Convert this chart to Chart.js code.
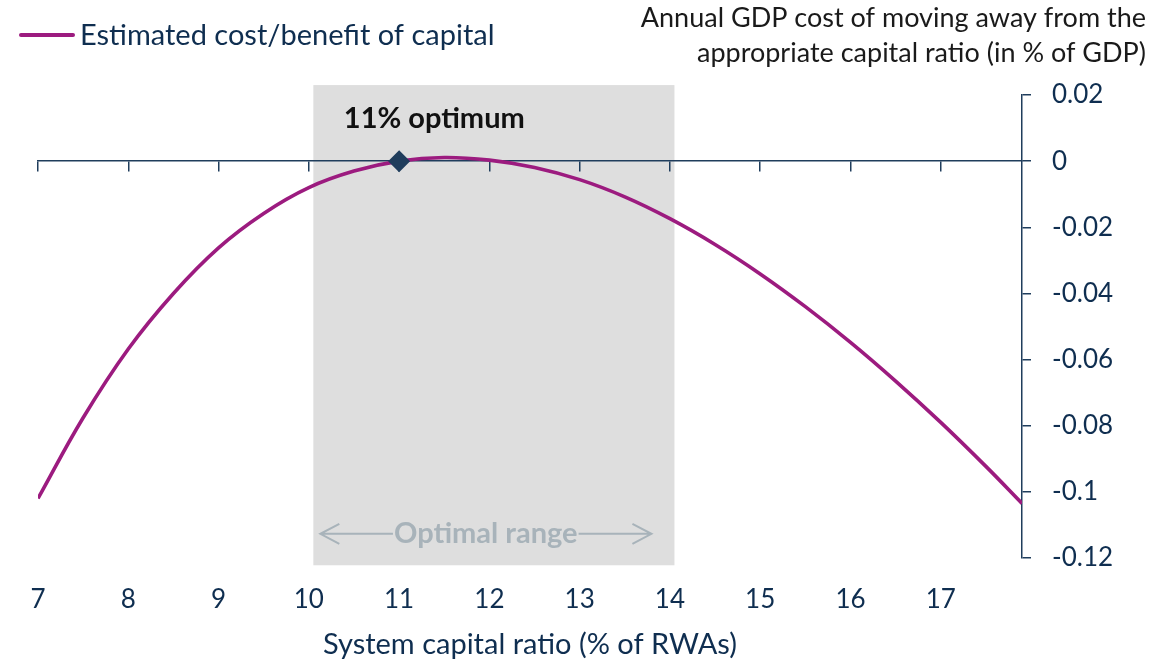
<!DOCTYPE html>
<html>
<head>
<meta charset="utf-8">
<script src="https://cdn.jsdelivr.net/npm/chart.js@4/dist/chart.umd.min.js"></script>
<style>
  html, body { margin: 0; padding: 0; background: #ffffff; }
  #wrap { width: 1176px; height: 664px; position: relative; }
</style>
</head>
<body>
<div id="wrap"><canvas id="c" width="1176" height="664"></canvas></div>
<script>
// ---- data ----
const capitalRatio = [7, 7.5, 8, 8.5, 9, 9.5, 10, 10.5, 11, 11.5, 12, 12.5, 13, 13.5, 14, 14.5, 15, 15.5, 16, 16.5, 17, 17.5, 17.9];
const costBenefit  = [-0.102, -0.0776, -0.0568, -0.04, -0.0262, -0.0158, -0.008, -0.003, 0, 0.0011, 0.0003, -0.0019, -0.0056, -0.0108, -0.0174, -0.0252, -0.0341, -0.044, -0.0548, -0.0665, -0.079, -0.0923, -0.1035];
const optimumX = [11];
const optimumY = [0];
const xTickValues = [7, 8, 9, 10, 11, 12, 13, 14, 15, 16, 17];
const yTickValues = [0.02, 0, -0.02, -0.04, -0.06, -0.08, -0.1, -0.12];
const optimalRange = [10.05, 14.05];
const seriesLabel = 'Estimated cost/benefit of capital';
const yTitleLines = ['Annual GDP cost of moving away from the', 'appropriate capital ratio (in % of GDP)'];
const xTitle = 'System capital ratio (% of RWAs)';
const optimumText = '11% optimum';
const rangeText = 'Optimal range';

const NAVY = '#0F2E50';
const AXIS = '#1F3D5C';
const PURPLE = '#9C1B7F';
const FONT = 'Lato, "Open Sans", sans-serif';

const overlay = {
  id: 'overlay',
  beforeDraw(chart) {
    const ctx = chart.ctx;
    const xs = chart.scales.x, ys = chart.scales.y;
    const l = xs.getPixelForValue(optimalRange[0]);
    const r = xs.getPixelForValue(optimalRange[1]);
    const t = ys.getPixelForValue(0.023);
    const b = ys.getPixelForValue(-0.1222);
    ctx.save();
    ctx.fillStyle = '#DEDEDE';
    ctx.fillRect(l, t, r - l, b - t);
    ctx.restore();
  },
  afterDraw(chart) {
    const ctx = chart.ctx;
    const xs = chart.scales.x, ys = chart.scales.y;
    ctx.save();
    // legend
    ctx.strokeStyle = PURPLE;
    ctx.lineWidth = 4;
    ctx.lineCap = 'round';
    ctx.beginPath(); ctx.moveTo(21, 35); ctx.lineTo(73, 35); ctx.stroke();
    ctx.fillStyle = NAVY;
    ctx.font = '29px ' + FONT;
    ctx.textAlign = 'left';
    ctx.textBaseline = 'middle';
    ctx.fillText(chart.data.datasets[0].label, 80, 36);
    // right axis title
    ctx.fillStyle = '#1A1A1A';
    ctx.font = '27px ' + FONT;
    ctx.textAlign = 'right';
    ctx.fillText(yTitleLines[0], 1146, 18);
    ctx.fillText(yTitleLines[1], 1146, 53);
    // optimum label
    ctx.fillStyle = '#111111';
    ctx.font = 'bold 29px ' + FONT;
    ctx.textAlign = 'center';
    ctx.fillText(optimumText, xs.getPixelForValue(11.39), ys.getPixelForValue(0.0129));
    // optimal range label and arrows
    const cx = xs.getPixelForValue(11.96);
    const cy = ys.getPixelForValue(-0.1127);
    ctx.fillStyle = '#A8B3BA';
    ctx.font = 'bold 29px ' + FONT;
    ctx.fillText(rangeText, cx, cy);
    const tw = ctx.measureText(rangeText).width;
    const lx = xs.getPixelForValue(optimalRange[0]) + 7;
    const rx = xs.getPixelForValue(optimalRange[1]) - 23;
    ctx.strokeStyle = '#A8B3BA';
    ctx.lineWidth = 2;
    ctx.lineCap = 'butt';
    ctx.beginPath();
    ctx.moveTo(lx, cy); ctx.lineTo(cx - tw / 2 - 1, cy);
    ctx.moveTo(lx + 19, cy - 10); ctx.lineTo(lx, cy); ctx.lineTo(lx + 19, cy + 10);
    ctx.moveTo(cx + tw / 2 + 1, cy); ctx.lineTo(rx, cy);
    ctx.moveTo(rx - 19, cy - 10); ctx.lineTo(rx, cy); ctx.lineTo(rx - 19, cy + 10);
    ctx.stroke();
    ctx.restore();
  }
};

new Chart(document.getElementById('c'), {
  type: 'line',
  data: {
    datasets: [
      {
        label: seriesLabel,
        data: capitalRatio.map((x, i) => ({ x: x, y: costBenefit[i] })),
        borderColor: PURPLE,
        borderWidth: 3.6,
        pointRadius: 0,
        tension: 0.4,
        fill: false,
        order: 2
      },
      {
        label: 'optimum',
        data: optimumX.map((x, i) => ({ x: x, y: optimumY[i] })),
        showLine: false,
        pointStyle: 'rectRot',
        pointRadius: 11,
        pointBackgroundColor: '#1F3D5C',
        pointBorderWidth: 0,
        order: 1
      }
    ]
  },
  options: {
    responsive: false,
    animation: false,
    devicePixelRatio: 1,
    layout: { padding: { left: 38, top: 95, right: 0, bottom: 0 } },
    plugins: {
      legend: { display: false },
      tooltip: { enabled: false },
      title: { display: false }
    },
    scales: {
      x: {
        type: 'linear',
        min: 7, max: 17.9,
        position: { y: 0 },
        afterBuildTicks: (s) => { s.ticks = xTickValues.map(v => ({ value: v })); },
        afterFit: (s) => { s.height = 0; },
        ticks: { display: false },
        grid: { drawOnChartArea: false, drawTicks: true, tickLength: 10, color: AXIS, lineWidth: 1.5 },
        border: { display: true, color: AXIS, width: 1.5 }
      },
      x2: {
        type: 'linear',
        axis: 'x',
        min: 7, max: 17.9,
        position: 'bottom',
        afterBuildTicks: (s) => { s.ticks = xTickValues.map(v => ({ value: v })); },
        afterFit: (s) => { s.height = 106; },
        ticks: { color: NAVY, font: { family: FONT, size: 26 }, padding: 26, maxRotation: 0, autoSkip: false },
        grid: { display: false, drawTicks: false },
        border: { display: false },
        title: { display: true, text: xTitle, color: NAVY, font: { family: FONT, size: 29 }, padding: { top: 14, bottom: 2 } }
      },
      y: {
        type: 'linear',
        min: -0.12, max: 0.02,
        position: 'right',
        afterBuildTicks: (s) => { s.ticks = yTickValues.map(v => ({ value: v })); },
        afterFit: (s) => { s.width = 154; },
        ticks: {
          color: NAVY, font: { family: FONT, size: 26 }, padding: 21,
          callback: (v) => (Math.abs(v) < 1e-9 ? '0' : String(+v.toFixed(2)))
        },
        grid: { drawOnChartArea: false, drawTicks: true, tickLength: 9, color: AXIS, lineWidth: 1.5 },
        border: { display: true, color: AXIS, width: 1.5 }
      }
    }
  },
  plugins: [overlay]
});
</script>
</body>
</html>
